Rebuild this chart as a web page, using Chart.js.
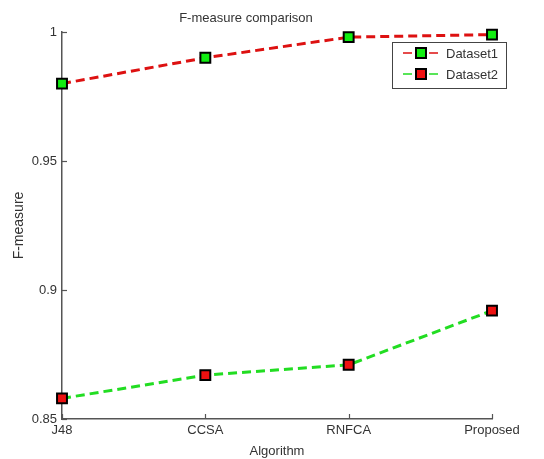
<!DOCTYPE html>
<html>
<head>
<meta charset="utf-8">
<script src="https://cdn.jsdelivr.net/npm/chart.js@4.4.1/dist/chart.umd.min.js"></script>
<style>
  html, body { margin: 0; padding: 0; background: #fff; }
  #wrap { width: 544px; height: 459px; }
</style>
</head>
<body>
<div id="wrap"><canvas id="fmeasureChart"></canvas></div>
<script>
  const categories = ['J48', 'CCSA', 'RNFCA', 'Proposed'];
  const dataset1 = [0.980, 0.990, 0.998, 0.999];
  const dataset2 = [0.858, 0.867, 0.871, 0.892];
  const yTicks = [0.85, 0.9, 0.95, 1];

  const axisColor = '#555';
  const textColor = '#333';
  const font = { family: 'Liberation Sans, Arial, sans-serif', size: 13 };

  // inward tick marks + matlab-like legend box
  const matlabBits = {
    id: 'matlabBits',
    afterDraw(chart) {
      const { ctx, scales: { x, y } } = chart;
      ctx.save();
      ctx.strokeStyle = axisColor;
      ctx.lineWidth = 1.2;
      yTicks.forEach(v => {
        const py = Math.round(y.getPixelForValue(v)) + 0.5;
        ctx.beginPath();
        ctx.moveTo(x.left, py);
        ctx.lineTo(x.left + 5, py);
        ctx.stroke();
      });
      categories.forEach((c, i) => {
        const px = Math.round(x.getPixelForValue(i)) + 0.5;
        ctx.beginPath();
        ctx.moveTo(px, y.bottom);
        ctx.lineTo(px, y.bottom - 5);
        ctx.stroke();
      });

      // legend
      const bx = 392, by = 42, bw = 114, bh = 46;
      ctx.fillStyle = '#fff';
      ctx.fillRect(bx, by, bw, bh);
      ctx.strokeStyle = '#444';
      ctx.lineWidth = 1;
      ctx.strokeRect(bx + 0.5, by + 0.5, bw, bh);
      chart.data.datasets.forEach((ds, i) => {
        const ly = by + 11 + i * 21;
        ctx.strokeStyle = ds.borderColor;
        ctx.lineWidth = 1.5;
        ctx.setLineDash([9, 4]);
        ctx.beginPath();
        ctx.moveTo(bx + 11, ly);
        ctx.lineTo(bx + 50, ly);
        ctx.stroke();
        ctx.setLineDash([]);
        ctx.fillStyle = ds.pointBackgroundColor;
        ctx.strokeStyle = '#000';
        ctx.lineWidth = 2;
        ctx.fillRect(bx + 24, ly - 5, 10, 10);
        ctx.strokeRect(bx + 24, ly - 5, 10, 10);
        ctx.fillStyle = textColor;
        ctx.font = '13px ' + font.family;
        ctx.textBaseline = 'middle';
        ctx.textAlign = 'left';
        ctx.fillText(ds.label, bx + 54, ly + 1);
      });
      ctx.restore();
    }
  };

  new Chart(document.getElementById('fmeasureChart').getContext('2d'), {
    type: 'line',
    data: {
      labels: categories,
      datasets: [
        {
          label: 'Dataset1',
          data: dataset1,
          borderColor: '#dd1111',
          borderWidth: 3,
          borderDash: [9, 5],
          pointStyle: 'rect',
          pointRadius: 7,
          pointBorderWidth: 2,
          pointBorderColor: '#000',
          pointBackgroundColor: '#11ee11',
          tension: 0,
          clip: false
        },
        {
          label: 'Dataset2',
          data: dataset2,
          borderColor: '#22dd22',
          borderWidth: 3,
          borderDash: [9, 5],
          pointStyle: 'rect',
          pointRadius: 7,
          pointBorderWidth: 2,
          pointBorderColor: '#000',
          pointBackgroundColor: '#ee1111',
          tension: 0,
          clip: false
        }
      ]
    },
    options: {
      responsive: true,
      maintainAspectRatio: false,
      animation: false,
      layout: { padding: { left: 0, right: 52, top: 0, bottom: 0 } },
      plugins: {
        legend: { display: false },
        tooltip: { enabled: false },
        title: {
          display: true,
          text: 'F-measure comparison',
          color: textColor,
          font: { ...font, weight: 'normal' },
          padding: { top: 10.5, bottom: 5.9 }
        }
      },
      scales: {
        x: {
          offset: false,
          grid: { display: true, drawOnChartArea: false, drawTicks: false, offset: false, color: axisColor },
          border: { color: axisColor, width: 1.5 },
          ticks: { color: textColor, font, padding: 4, autoSkip: false, maxRotation: 0 },
          title: { display: true, text: 'Algorithm', color: textColor, font, padding: 0 },
          afterFit: s => { s.height = 40; }
        },
        y: {
          min: 0.85,
          max: 1,
          afterBuildTicks: s => { s.ticks = yTicks.map(v => ({ value: v })); },
          grid: { display: true, drawOnChartArea: false, drawTicks: false, color: axisColor },
          border: { color: axisColor, width: 1.5 },
          ticks: {
            color: textColor,
            font,
            padding: 5,
            callback: v => String(+v.toFixed(2))
          },
          title: { display: true, text: 'F-measure', color: textColor, font: { ...font, size: 14 }, padding: { top: 11, bottom: 0 } },
          afterFit: s => { s.width = 62; }
        }
      }
    },
    plugins: [matlabBits]
  });
</script>
</body>
</html>
